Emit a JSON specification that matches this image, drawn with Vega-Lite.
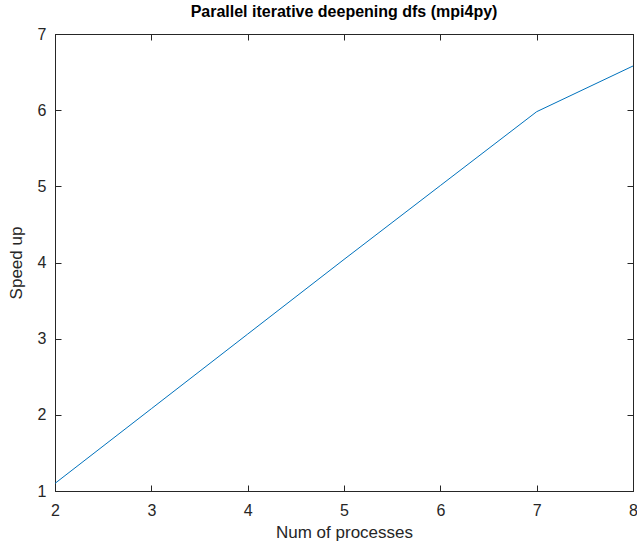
{
  "$schema": "https://vega.github.io/schema/vega-lite/v6.json",
  "width": 578,
  "height": 457,
  "autosize": {"type": "none"},
  "padding": {"left": 55, "top": 34, "right": 4, "bottom": 57},
  "background": "white",
  "title": {
    "text": "Parallel iterative deepening dfs (mpi4py)",
    "font": "Liberation Sans",
    "fontSize": 16,
    "fontWeight": "bold",
    "color": "#000000",
    "offset": 6
  },
  "config": {
    "view": {"stroke": "#262626", "strokeWidth": 1},
    "axis": {
      "labelFont": "Liberation Sans",
      "titleFont": "Liberation Sans",
      "labelFontSize": 16,
      "titleFontSize": 17,
      "titleFontWeight": "normal",
      "labelColor": "#262626",
      "titleColor": "#262626",
      "domainColor": "#262626",
      "tickColor": "#262626",
      "grid": false,
      "tickSize": -6,
      "labelPadding": 12
    }
  },
  "data": {
    "values": [
      {"procs": 2, "speedup": 1.1},
      {"procs": 3, "speedup": 2.08},
      {"procs": 4, "speedup": 3.06},
      {"procs": 5, "speedup": 4.04},
      {"procs": 6, "speedup": 5.01},
      {"procs": 7, "speedup": 5.98},
      {"procs": 8, "speedup": 6.58}
    ]
  },
  "layer": [
    {
      "mark": {"type": "line", "color": "#0072BD", "strokeWidth": 1},
      "encoding": {
        "x": {
          "field": "procs", "type": "quantitative",
          "scale": {"domain": [2, 8], "nice": false, "zero": false},
          "axis": {"values": [2,3,4,5,6,7,8], "title": "Num of processes", "labelPadding": 17, "titlePadding": 6, "labelFlush": false, "labelOverlap": false}
        },
        "y": {
          "field": "speedup", "type": "quantitative",
          "scale": {"domain": [1, 7], "nice": false, "zero": false},
          "axis": {"values": [1,2,3,4,5,6,7], "title": "Speed up", "labelPadding": 15, "titlePadding": 12, "labelFlush": false, "labelOverlap": false}
        }
      }
    },
    {
      "mark": {"type": "line", "opacity": 0},
      "encoding": {
        "x": {
          "field": "procs", "type": "quantitative",
          "scale": {"domain": [2, 8], "nice": false, "zero": false},
          "axis": {"orient": "top", "values": [2,3,4,5,6,7,8], "labels": false, "title": null}
        },
        "y": {
          "field": "speedup", "type": "quantitative",
          "scale": {"domain": [1, 7], "nice": false, "zero": false},
          "axis": {"orient": "right", "values": [1,2,3,4,5,6,7], "labels": false, "title": null}
        }
      }
    }
  ],
  "resolve": {"axis": {"x": "independent", "y": "independent"}}
}
